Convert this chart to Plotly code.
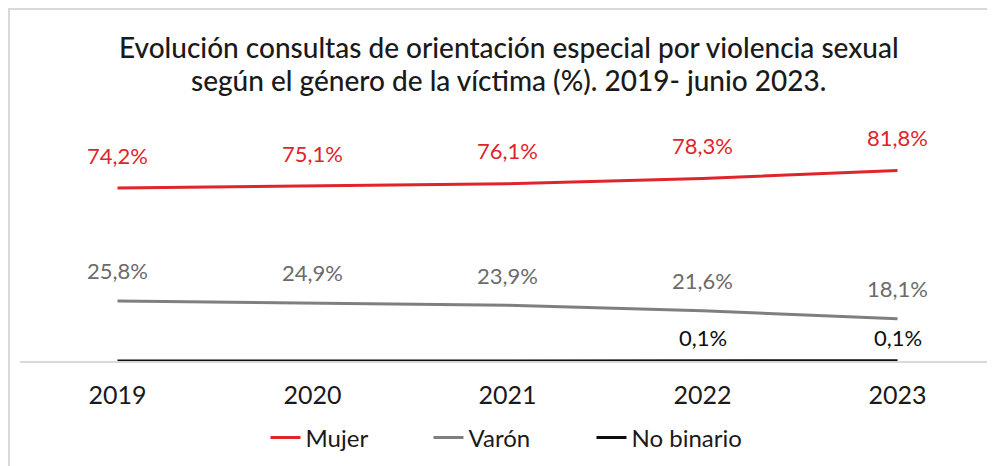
import plotly.graph_objects as go

years = ["2019", "2020", "2021", "2022", "2023"]
mujer = [74.2, 75.1, 76.1, 78.3, 81.8]
varon = [25.8, 24.9, 23.9, 21.6, 18.1]
no_binario = [0.0, 0.0, 0.0, 0.1, 0.1]
nb_labels = ["", "", "", "0,1%", "0,1%"]
title_lines = ["Evolución consultas de orientación especial por violencia sexual",
               "según el género de la víctima (%). 2019- junio 2023."]

RED = "#e0242c"
GRAY = "#7f7f7f"
GRAY_TXT = "#6b6b6b"
BLACK = "#0d0d0d"
FONT = "Lato, 'Noto Sans', sans-serif"

# page offset of 8px (browser body margin) accounted for
W, H = 987, 458
L, R, T, B = 12, 0, 120, 105
PW, PH = W - L - R, H - T - B

def px_x(page_x):
    return (page_x - 8 - L) / PW

def px_y(page_y):
    return (H - B - (page_y - 8)) / PH

def fmt(v):
    return f"{v:.1f}%".replace(".", ",")

fig = go.Figure()
fig.add_trace(go.Scatter(x=years, y=mujer, mode="lines", name="Mujer",
                         line=dict(color=RED, width=3)))
fig.add_trace(go.Scatter(x=years, y=varon, mode="lines", name="Varón",
                         line=dict(color=GRAY, width=3)))
fig.add_trace(go.Scatter(x=years, y=no_binario, mode="lines", name="No binario",
                         line=dict(color=BLACK, width=3)))

annotations = []
for i, v in enumerate(mujer):
    annotations.append(dict(x=i, y=v, text=fmt(v), showarrow=False, yshift=33,
                            font=dict(color=RED, size=22, family=FONT)))
for i, v in enumerate(varon):
    annotations.append(dict(x=i, y=v, text=fmt(v), showarrow=False, yshift=30,
                            font=dict(color=GRAY_TXT, size=22, family=FONT)))
for i, (v, t) in enumerate(zip(no_binario, nb_labels)):
    if t:
        annotations.append(dict(x=i, y=v, text=t, showarrow=False, yshift=23,
                                font=dict(color=BLACK, size=22, family=FONT)))

for line, py in zip(title_lines, [47, 80]):
    annotations.append(dict(
        xref="paper", yref="paper", x=px_x(509), y=px_y(py), xanchor="center", yanchor="middle",
        text=line, showarrow=False,
        font=dict(size=28, color="#1a1a1a", family=FONT, weight=500)))

fig.update_layout(
    width=W, height=H,
    margin=dict(l=L, r=R, t=T, b=B),
    paper_bgcolor="white", plot_bgcolor="white",
    showlegend=True,
    legend=dict(orientation="h", x=px_x(510), xanchor="center", y=px_y(438), yanchor="middle",
                font=dict(size=24, color="#1a1a1a", family=FONT),
                entrywidth=118, entrywidthmode="pixels", traceorder="normal"),
    xaxis=dict(type="category", range=[-0.5, 4.5], showgrid=False, zeroline=False, showline=True,
               linecolor="#d9d9d9", linewidth=1.5, ticks="",
               tickfont=dict(size=25, color="#1a1a1a", family=FONT),
               ticklabelstandoff=11, fixedrange=True),
    yaxis=dict(range=[0, 100], visible=False, showgrid=False, zeroline=False,
               fixedrange=True),
    annotations=annotations,
    shapes=[
        dict(type="line", xref="paper", yref="paper",
             x0=px_x(8), x1=px_x(995), y0=px_y(9), y1=px_y(9),
             line=dict(color="#d9d9d9", width=2)),
        dict(type="line", xref="paper", yref="paper",
             x0=px_x(9), x1=px_x(9), y0=px_y(9), y1=px_y(466),
             line=dict(color="#d9d9d9", width=2)),
    ],
)

fig.write_html("out.html")
